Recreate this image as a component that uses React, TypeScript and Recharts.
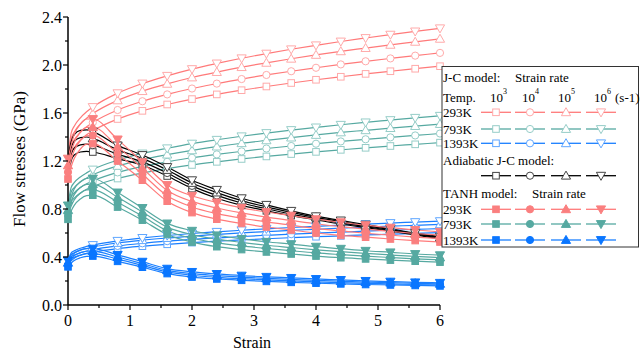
import { LineChart, Line, XAxis, YAxis, Legend } from 'recharts';

const strain = [0, 0.05, 0.1, 0.2, 0.3, 0.4, 0.8, 1.2, 1.6, 2.0, 2.4, 2.8, 3.2, 3.6, 4.0, 4.4, 4.8, 5.2, 5.6, 6.0];

// J-C model, strain rates 1e3 .. 1e6
const jc293R3 = [1.05, 1.26, 1.311, 1.374, 1.418, 1.452, 1.55, 1.618, 1.671, 1.716, 1.755, 1.79, 1.821, 1.85, 1.877, 1.902, 1.926, 1.948, 1.969, 1.99];
const jc293R4 = [1.11, 1.32, 1.374, 1.439, 1.485, 1.521, 1.625, 1.698, 1.755, 1.804, 1.845, 1.883, 1.917, 1.948, 1.977, 2.005, 2.031, 2.055, 2.078, 2.101];
const jc293R5 = [1.172, 1.382, 1.44, 1.508, 1.556, 1.595, 1.705, 1.782, 1.843, 1.896, 1.941, 1.982, 2.018, 2.052, 2.084, 2.114, 2.141, 2.168, 2.193, 2.218];
const jc293R6 = [1.22, 1.43, 1.49, 1.56, 1.61, 1.65, 1.765, 1.846, 1.91, 1.966, 2.013, 2.056, 2.095, 2.131, 2.164, 2.196, 2.225, 2.253, 2.28, 2.306];

const jc793R3 = [0.714, 0.857, 0.891, 0.934, 0.964, 0.987, 1.054, 1.1, 1.136, 1.167, 1.193, 1.217, 1.238, 1.258, 1.276, 1.293, 1.31, 1.325, 1.339, 1.353];
const jc793R4 = [0.755, 0.898, 0.934, 0.979, 1.01, 1.034, 1.105, 1.155, 1.193, 1.227, 1.255, 1.28, 1.304, 1.325, 1.344, 1.363, 1.381, 1.397, 1.413, 1.429];
const jc793R5 = [0.797, 0.94, 0.979, 1.025, 1.058, 1.085, 1.159, 1.212, 1.253, 1.289, 1.32, 1.348, 1.372, 1.395, 1.417, 1.438, 1.456, 1.474, 1.491, 1.508];
const jc793R6 = [0.834, 0.978, 1.019, 1.067, 1.101, 1.129, 1.207, 1.263, 1.306, 1.345, 1.377, 1.406, 1.433, 1.458, 1.48, 1.502, 1.522, 1.541, 1.56, 1.577];

const jc1393R3 = [0.318, 0.382, 0.397, 0.416, 0.43, 0.44, 0.47, 0.49, 0.506, 0.52, 0.532, 0.542, 0.552, 0.561, 0.569, 0.576, 0.584, 0.59, 0.597, 0.603];
const jc1393R4 = [0.336, 0.4, 0.416, 0.436, 0.45, 0.461, 0.492, 0.514, 0.532, 0.547, 0.559, 0.571, 0.581, 0.59, 0.599, 0.608, 0.615, 0.623, 0.63, 0.637];
const jc1393R5 = [0.355, 0.419, 0.436, 0.457, 0.471, 0.483, 0.517, 0.54, 0.558, 0.574, 0.588, 0.601, 0.611, 0.622, 0.631, 0.641, 0.649, 0.657, 0.664, 0.672];
const jc1393R6 = [0.37, 0.433, 0.451, 0.473, 0.488, 0.5, 0.535, 0.559, 0.579, 0.596, 0.61, 0.623, 0.635, 0.646, 0.656, 0.665, 0.674, 0.683, 0.691, 0.699];

// adiabatic J-C model
const adiR3 = [1.05, 1.2, 1.25, 1.275, 1.28, 1.275, 1.22, 1.165, 1.075, 0.97, 0.89, 0.83, 0.785, 0.745, 0.71, 0.675, 0.645, 0.615, 0.585, 0.55];
const adiR4 = [1.107, 1.253, 1.307, 1.335, 1.34, 1.332, 1.257, 1.193, 1.1, 0.993, 0.913, 0.85, 0.802, 0.758, 0.72, 0.685, 0.653, 0.622, 0.59, 0.557];
const adiR5 = [1.163, 1.307, 1.363, 1.395, 1.4, 1.388, 1.293, 1.222, 1.125, 1.017, 0.937, 0.87, 0.818, 0.772, 0.73, 0.695, 0.662, 0.628, 0.595, 0.563];
const adiR6 = [1.22, 1.36, 1.42, 1.455, 1.46, 1.445, 1.33, 1.25, 1.15, 1.04, 0.96, 0.89, 0.835, 0.785, 0.74, 0.705, 0.67, 0.635, 0.6, 0.57];

// TANH model
const th293R3 = [1.05, 1.15, 1.22, 1.3, 1.34, 1.345, 1.2, 1.04, 0.865, 0.77, 0.715, 0.68, 0.65, 0.625, 0.6, 0.58, 0.565, 0.55, 0.537, 0.525];
const th293R4 = [1.107, 1.21, 1.287, 1.37, 1.41, 1.413, 1.26, 1.09, 0.91, 0.817, 0.762, 0.723, 0.692, 0.665, 0.638, 0.617, 0.598, 0.582, 0.566, 0.553];
const th293R5 = [1.163, 1.27, 1.353, 1.44, 1.48, 1.482, 1.32, 1.14, 0.955, 0.863, 0.808, 0.767, 0.733, 0.705, 0.677, 0.653, 0.632, 0.613, 0.596, 0.582];
const th293R6 = [1.22, 1.33, 1.42, 1.51, 1.55, 1.55, 1.38, 1.19, 1.0, 0.91, 0.855, 0.81, 0.775, 0.745, 0.715, 0.69, 0.665, 0.645, 0.625, 0.61];

const th793R3 = [0.714, 0.782, 0.83, 0.884, 0.911, 0.915, 0.816, 0.707, 0.588, 0.524, 0.486, 0.462, 0.442, 0.425, 0.408, 0.394, 0.384, 0.374, 0.365, 0.357];
const th793R4 = [0.753, 0.823, 0.875, 0.932, 0.959, 0.961, 0.857, 0.741, 0.619, 0.556, 0.518, 0.492, 0.471, 0.452, 0.434, 0.42, 0.407, 0.396, 0.385, 0.376];
const th793R5 = [0.791, 0.864, 0.92, 0.979, 1.006, 1.008, 0.898, 0.775, 0.649, 0.587, 0.549, 0.522, 0.498, 0.479, 0.46, 0.444, 0.43, 0.417, 0.405, 0.396];
const th793R6 = [0.83, 0.904, 0.966, 1.027, 1.054, 1.054, 0.938, 0.809, 0.68, 0.619, 0.581, 0.551, 0.527, 0.507, 0.486, 0.469, 0.452, 0.439, 0.425, 0.415];

const th1393R3 = [0.318, 0.348, 0.37, 0.394, 0.406, 0.408, 0.364, 0.315, 0.262, 0.233, 0.217, 0.206, 0.197, 0.189, 0.182, 0.176, 0.171, 0.167, 0.163, 0.159];
const th1393R4 = [0.335, 0.367, 0.39, 0.415, 0.427, 0.428, 0.382, 0.33, 0.276, 0.248, 0.231, 0.219, 0.21, 0.201, 0.193, 0.187, 0.181, 0.176, 0.171, 0.168];
const th1393R5 = [0.352, 0.385, 0.41, 0.436, 0.448, 0.449, 0.4, 0.345, 0.289, 0.261, 0.245, 0.232, 0.222, 0.214, 0.205, 0.198, 0.191, 0.186, 0.181, 0.176];
const th1393R6 = [0.37, 0.403, 0.43, 0.458, 0.47, 0.47, 0.418, 0.361, 0.303, 0.276, 0.259, 0.245, 0.235, 0.226, 0.217, 0.209, 0.201, 0.195, 0.189, 0.185];

const xTicks = [0, 0.5, 1, 1.5, 2, 2.5, 3, 3.5, 4, 4.5, 5, 5.5, 6];
const yTicks = [0, 0.2, 0.4, 0.6, 0.8, 1.0, 1.2, 1.4, 1.6, 1.8, 2.0, 2.2, 2.4];
const rateLabels = ['3', '4', '5', '6'];
const tempLabels = ['293K', '793K', '1393K'];

const FONT = '"Liberation Serif", "Times New Roman", serif';
const txt = { fontFamily: FONT };

const PINK = { line: '#FF7A7A', open: '#FFAAAA', fill: '#FA7F7F' };
const TEAL = { line: '#56A9A1', open: '#96CDC8', fill: '#56A9A1' };
const BLUE = { line: '#1A7FFF', open: '#5FA6FF', fill: '#0A76FF' };
const BLACK = { line: '#000000', open: '#444444', fill: '#000000' };

type Shape = 'square' | 'circle' | 'up' | 'down';
const shapes: Shape[] = ['square', 'circle', 'up', 'down'];

type Series = { key: string; values: number[]; color: typeof PINK; shape: Shape; filled: boolean };

const mk = (prefix: string, arrs: number[][], color: typeof PINK, filled: boolean): Series[] =>
  arrs.map((values, i) => ({ key: `${prefix}${i}`, values, color, shape: shapes[i], filled }));

const series: Series[] = [
  ...mk('jc293_', [jc293R3, jc293R4, jc293R5, jc293R6], PINK, false),
  ...mk('jc793_', [jc793R3, jc793R4, jc793R5, jc793R6], TEAL, false),
  ...mk('jc1393_', [jc1393R3, jc1393R4, jc1393R5, jc1393R6], BLUE, false),
  ...mk('adi_', [adiR3, adiR4, adiR5, adiR6], BLACK, false),
  ...mk('th293_', [th293R3, th293R4, th293R5, th293R6], PINK, true),
  ...mk('th793_', [th793R3, th793R4, th793R5, th793R6], TEAL, true),
  ...mk('th1393_', [th1393R3, th1393R4, th1393R5, th1393R6], BLUE, true),
];

const data = strain.map((s, i) => {
  const row: Record<string, number> = { strain: s };
  series.forEach((sr) => (row[sr.key] = sr.values[i]));
  return row;
});

const showMarker = (s: number, withZero: boolean) => {
  if (s === 0) return withZero;
  const k = s / 0.4;
  return Math.abs(k - Math.round(k)) < 1e-6;
};

function Marker({ shape, cx, cy, stroke, fill }: { shape: Shape; cx: number; cy: number; stroke: string; fill: string }) {
  const sw = 1;
  if (shape === 'square') return <rect x={cx - 3.3} y={cy - 3.3} width={6.6} height={6.6} stroke={stroke} fill={fill} strokeWidth={sw} />;
  if (shape === 'circle') return <circle cx={cx} cy={cy} r={3.6} stroke={stroke} fill={fill} strokeWidth={sw} />;
  if (shape === 'up')
    return <polygon points={`${cx},${cy - 4.6} ${cx - 4.6},${cy + 3.4} ${cx + 4.6},${cy + 3.4}`} stroke={stroke} fill={fill} strokeWidth={sw} />;
  return <polygon points={`${cx},${cy + 4.6} ${cx - 4.6},${cy - 3.4} ${cx + 4.6},${cy - 3.4}`} stroke={stroke} fill={fill} strokeWidth={sw} />;
}

const YTick = (props: any) => {
  const { x, y, payload } = props;
  const v = payload.value as number;
  const major = Math.round(v * 10) % 4 === 0;
  return (
    <g>
      <line x1={x} x2={x - (major ? 5 : 3)} y1={y} y2={y} stroke="#000" strokeWidth={1.2} />
      {major && (
        <text x={x - 6} y={y} textAnchor="end" dominantBaseline="central" style={txt} fontSize={16} fill="#000">
          {v.toFixed(1)}
        </text>
      )}
    </g>
  );
};

const XTick = (props: any) => {
  const { x, y, payload } = props;
  const v = payload.value as number;
  const major = Number.isInteger(v);
  return (
    <g>
      <line x1={x} x2={x} y1={y} y2={y + (major ? 5 : 3)} stroke="#000" strokeWidth={1.2} />
      {major && (
        <text x={x} y={y + 21} textAnchor="middle" style={txt} fontSize={16} fill="#000">
          {v}
        </text>
      )}
    </g>
  );
};

const COLS = [55, 89, 125, 160];

function SampleRow({ y, color, filled }: { y: number; color: typeof PINK; filled: boolean }) {
  return (
    <g>
      {COLS.map((cx, i) => (
        <g key={i}>
          <line x1={cx - 15} x2={cx + 15} y1={y} y2={y} stroke={color.line} strokeWidth={1.3} />
          <Marker shape={shapes[i]} cx={cx} cy={y} stroke={filled ? color.fill : color.open} fill={filled ? color.fill : '#fff'} />
        </g>
      ))}
    </g>
  );
}

function LegendBox() {
  const t = { style: txt, fontSize: 13, fill: '#000', dominantBaseline: 'central' as const };
  const headX = [49, 81, 117, 153];
  return (
    <svg width={199} height={182} style={{ display: 'block' }}>
      <rect x={1} y={0.5} width={196.5} height={180.5} fill="#fff" stroke="#333" strokeWidth={1} />
      <text x={2} y={11} {...t}>J-C model:</text>
      <text x={74} y={11} {...t}>Strain rate</text>
      <text x={2} y={31} {...t}>Temp.</text>
      {rateLabels.map((r, i) => (
        <text key={r} x={headX[i]} y={31} {...t}>
          10<tspan fontSize={8} dy={-6}>{r}</tspan>
        </text>
      ))}
      <text x={174} y={31} {...t}>(s-1)</text>
      {[PINK, TEAL, BLUE].map((c, i) => (
        <g key={i}>
          <text x={2} y={[46.3, 63, 77.3][i]} {...t}>{tempLabels[i]}</text>
          <SampleRow y={[46.3, 63, 77.3][i]} color={c} filled={false} />
        </g>
      ))}
      <text x={2} y={94} {...t}>Adiabatic J-C model:</text>
      <SampleRow y={109.7} color={BLACK} filled={false} />
      <text x={2} y={127.3} {...t}>TANH model:</text>
      <text x={91} y={127.3} {...t}>Strain rate</text>
      {[PINK, TEAL, BLUE].map((c, i) => (
        <g key={i}>
          <text x={2} y={[143.3, 158, 174][i]} {...t}>{tempLabels[i]}</text>
          <SampleRow y={[143.3, 158, 174][i]} color={c} filled />
        </g>
      ))}
    </svg>
  );
}

export default function App() {
  return (
    <div style={{ position: 'absolute', left: 0, top: 0, background: '#fff' }}>
      <LineChart width={640} height={354} data={data} margin={{ top: 17, right: 200, left: 0, bottom: 0 }}>
        <XAxis
          dataKey="strain"
          type="number"
          domain={[0, 6]}
          ticks={xTicks}
          interval={0}
          height={49}
          tickSize={0}
          tickMargin={0}
          tickLine={false}
          axisLine={{ stroke: '#000', strokeWidth: 1.5 }}
          tick={XTick}
          label={{
            content: () => (
              <text x={252} y={348} textAnchor="middle" style={txt} fontSize={16} fill="#000">
                Strain
              </text>
            ),
          }}
        />
        <XAxis xAxisId="top" orientation="top" type="number" domain={[0, 6]} height={0} tick={false} tickLine={false} axisLine={{ stroke: '#333', strokeWidth: 1.2 }} />
        <YAxis
          type="number"
          domain={[0, 2.4]}
          ticks={yTicks}
          interval={0}
          width={68}
          tickSize={0}
          tickMargin={0}
          tickLine={false}
          axisLine={{ stroke: '#000', strokeWidth: 1.5 }}
          tick={YTick}
          label={{
            content: () => (
              <text x={19} y={159} transform="rotate(-90 19 159)" textAnchor="middle" dominantBaseline="central" style={txt} fontSize={17} fill="#000">
                Flow stresses (GPa)
              </text>
            ),
          }}
        />
        <YAxis yAxisId="right" orientation="right" type="number" domain={[0, 2.4]} width={0} tick={false} tickLine={false} axisLine={{ stroke: '#333', strokeWidth: 1.2 }} />
        {series.map((sr) => (
          <Line
            key={sr.key}
            dataKey={sr.key}
            type="monotone"
            stroke={sr.color.line}
            strokeWidth={1.2}
            isAnimationActive={false}
            activeDot={false}
            dot={(p: any) =>
              showMarker(p.payload.strain, sr.filled) ? (
                <Marker
                  key={`${sr.key}-${p.index}`}
                  shape={sr.shape}
                  cx={p.cx}
                  cy={p.cy}
                  stroke={sr.filled ? sr.color.fill : sr.color.open}
                  fill={sr.filled ? sr.color.fill : '#fff'}
                />
              ) : (
                <g key={`${sr.key}-${p.index}`} />
              )
            }
          />
        ))}
        <Legend
          layout="horizontal"
          align="center"
          verticalAlign="middle"
          content={() => <LegendBox />}
          wrapperStyle={{ left: 441, top: 66, width: 199, height: 182 }}
        />
      </LineChart>
    </div>
  );
}
